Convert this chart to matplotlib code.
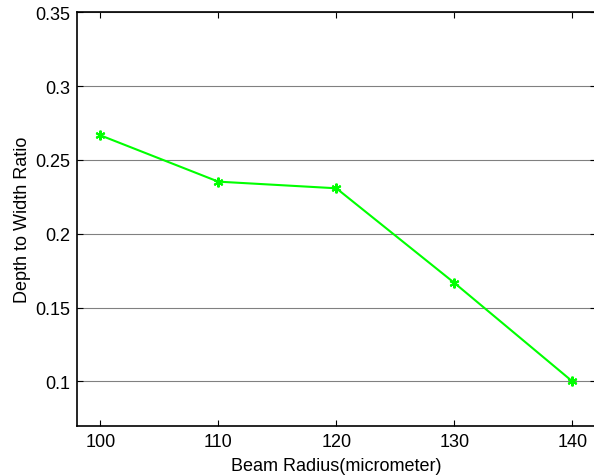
import matplotlib.pyplot as plt

plt.rcParams['font.family'] = ['Liberation Sans', 'DejaVu Sans']

# beam radius vs. depth/width ratio of the weld pool
beam_radius = [100, 110, 120, 130, 140]
depth_width = [0.2667, 0.2353, 0.2308, 0.1667, 0.1]
y_ticks = [0.1, 0.15, 0.2, 0.25, 0.3, 0.35]
x_ticks = [100, 110, 120, 130, 140]

fig = plt.figure(figsize=(5.94, 4.77), dpi=100)
ax = fig.add_axes([76.7 / 594, 1 - 426.7 / 477, (596 - 76.7) / 594, (426.7 - 13.3) / 477])

ax.plot(beam_radius, depth_width, color='#00ff00', linewidth=1.5,
        marker=(6, 2, 0), markersize=7, markeredgewidth=1.5, zorder=3)

ax.set_xlim(98, 142)
ax.set_ylim(0.07, 0.35)
ax.set_xticks(x_ticks)
ax.set_yticks(y_ticks)
ax.set_yticklabels(['0.1', '0.15', '0.2', '0.25', '0.3', '0.35'])
ax.yaxis.grid(True, color='#808080', linewidth=0.8)
ax.set_axisbelow(True)

ax.tick_params(direction='in', top=True, right=True, labelsize=13, length=4, pad=5)
for s in ax.spines.values():
    s.set_linewidth(1.2)

ax.set_xlabel('Beam Radius(micrometer)', fontsize=13, labelpad=5)
ax.set_ylabel('Depth to Width Ratio', fontsize=13, labelpad=3)

fig.savefig('out.png', dpi=100)
